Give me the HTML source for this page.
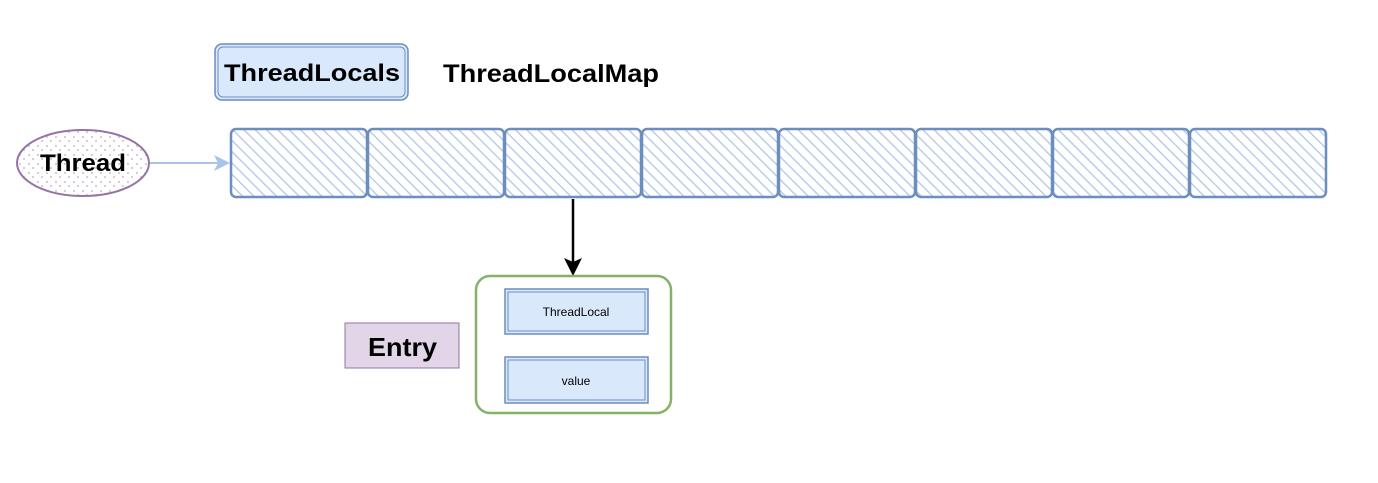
<!DOCTYPE html>
<html><head><style>html,body{margin:0;padding:0;background:#fff}</style></head><body>
<svg width="1378" height="478" xmlns="http://www.w3.org/2000/svg" font-family="Liberation Sans, Arial, sans-serif">
<defs>
<pattern id="h" width="8" height="8" patternUnits="userSpaceOnUse" patternTransform="rotate(-45)">
<rect width="8" height="8" fill="#fff"/><line x1="0" y1="0" x2="0" y2="8" stroke="#b9cfe8" stroke-width="3"/>
</pattern>
<pattern id="d" width="9" height="9" patternUnits="userSpaceOnUse">
<rect width="9" height="9" fill="#fff"/><circle cx="2" cy="2" r="1" fill="#c9bccf"/><circle cx="6" cy="6" r="1" fill="#c9bccf"/>
</pattern>
</defs>
<rect x="215" y="44" width="193" height="56" rx="7" fill="#dae8fc" stroke="#6c8ebf" stroke-width="1.5"/>
<rect x="218" y="47" width="187" height="50" rx="5" fill="none" stroke="#6c8ebf" stroke-width="1"/>
<text x="224" y="81" font-size="24" font-weight="bold" textLength="176" lengthAdjust="spacingAndGlyphs">ThreadLocals</text>
<text x="443" y="82" font-size="25" font-weight="bold" textLength="216" lengthAdjust="spacingAndGlyphs">ThreadLocalMap</text>
<ellipse cx="83" cy="163" rx="66" ry="33" fill="url(#d)" stroke="#9673a6" stroke-width="2"/>
<text x="40" y="171" font-size="24" font-weight="bold" textLength="86" lengthAdjust="spacingAndGlyphs">Thread</text>
<line x1="150" y1="163" x2="220" y2="163" stroke="#a9c4eb" stroke-width="2"/>
<polygon points="230,163 214,155 218,163 214,171" fill="#a9c4eb"/>
<g fill="url(#h)" stroke="#6c8ebf" stroke-width="2.5">
<rect x="231" y="129" width="136" height="68" rx="5"/>
<rect x="368" y="129" width="136" height="68" rx="5"/>
<rect x="505" y="129" width="136" height="68" rx="5"/>
<rect x="642" y="129" width="136" height="68" rx="5"/>
<rect x="779" y="129" width="136" height="68" rx="5"/>
<rect x="916" y="129" width="136" height="68" rx="5"/>
<rect x="1053" y="129" width="136" height="68" rx="5"/>
<rect x="1190" y="129" width="136" height="68" rx="5"/>
</g>
<line x1="573" y1="199" x2="573" y2="262" stroke="#000" stroke-width="2.5"/>
<polygon points="573,276 564,258 573,262 582,258" fill="#000"/>
<rect x="476" y="276" width="195" height="137" rx="14" fill="#fff" stroke="#82b366" stroke-width="2.5"/>
<rect x="505" y="289" width="143" height="45" fill="#dae8fc" stroke="#6c8ebf" stroke-width="1.5"/>
<rect x="508" y="292" width="137" height="39" fill="none" stroke="#6c8ebf" stroke-width="1"/>
<text x="576" y="316" text-anchor="middle" font-size="12">ThreadLocal</text>
<rect x="505" y="357" width="143" height="46" fill="#dae8fc" stroke="#6c8ebf" stroke-width="1.5"/>
<rect x="508" y="360" width="137" height="40" fill="none" stroke="#6c8ebf" stroke-width="1"/>
<text x="576" y="385" text-anchor="middle" font-size="12">value</text>
<rect x="345" y="323" width="114" height="45" fill="#e1d5e7" stroke="#9673a6" stroke-width="1"/>
<text x="368" y="356" font-size="26" font-weight="bold" textLength="69" lengthAdjust="spacingAndGlyphs">Entry</text>
</svg>
</body></html>
